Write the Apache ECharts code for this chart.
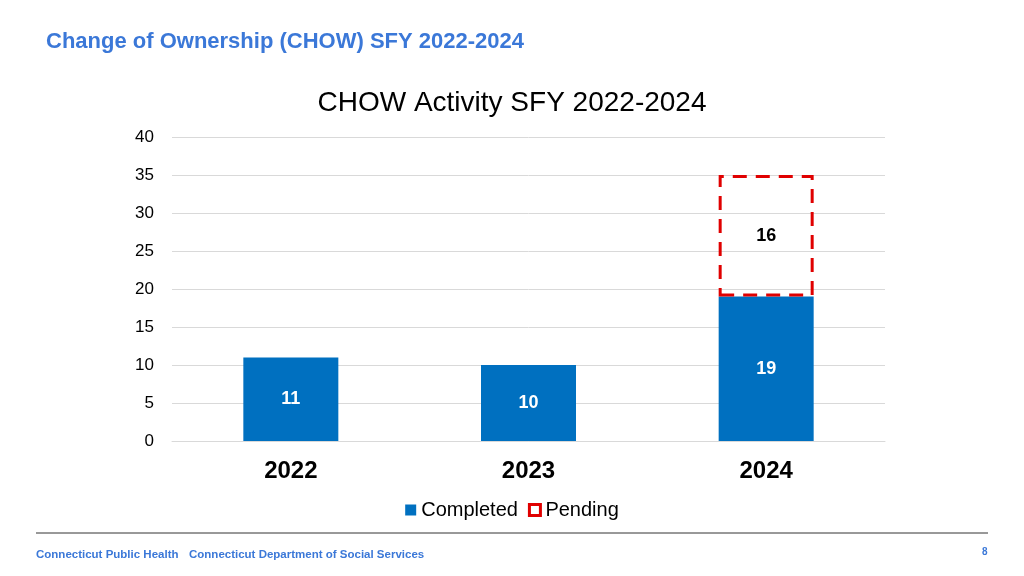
<!DOCTYPE html>
<html>
<head>
<meta charset="utf-8">
<script src="https://cdn.jsdelivr.net/npm/echarts@6/dist/echarts.min.js"></script>
<style>html,body{margin:0;padding:0;background:#fff}#root{width:1024px;height:576px}</style>
</head>
<body>
<div id="root"></div>
<script>
var years = ['2022', '2023', '2024'];
var completed = [11, 10, 19];
var pending = [null, null, 16];

var chart = echarts.init(document.getElementById('root'));
var blue = '#3b78d8';
var option = {
  animation: false,
  textStyle: { fontFamily: 'Liberation Sans, Arial, sans-serif' },
  title: {
    text: 'CHOW Activity SFY 2022-2024',
    left: 'center', top: 84,
    textStyle: { fontSize: 28, fontWeight: 'normal', color: '#000' }
  },
  grid: { left: 172, right: 139, top: 137, bottom: 135 },
  legend: {
    bottom: 51, left: 'center',
    itemWidth: 11, itemHeight: 11, itemGap: 10,
    textStyle: { fontSize: 20, color: '#000' },
    data: [
      { name: 'Completed', icon: 'rect' },
      { name: 'Pending', icon: 'rect', itemStyle: { color: '#fff', borderColor: '#e00000', borderWidth: 3, borderType: 'solid' } }
    ]
  },
  xAxis: {
    type: 'category', data: years,
    axisLine: { lineStyle: { color: '#d9d9d9' } },
    axisTick: { show: false },
    axisLabel: { fontSize: 24, fontWeight: 'bold', color: '#000', margin: 18 }
  },
  yAxis: {
    type: 'value', min: 0, max: 40, interval: 5,
    axisLine: { show: false }, axisTick: { show: false },
    splitLine: { lineStyle: { color: '#d9d9d9' } },
    axisLabel: { fontSize: 17, color: '#000', margin: 18 }
  },
  series: [
    {
      name: 'Completed', type: 'bar', stack: 'a', data: completed, barWidth: 95,
      itemStyle: { color: '#0070c0' },
      label: { show: true, position: 'inside', color: '#fff', fontSize: 18, fontWeight: 'bold' }
    },
    {
      name: 'Pending', type: 'bar', stack: 'a', data: pending, barWidth: 95,
      itemStyle: { color: 'rgba(0,0,0,0)', borderColor: '#e00000', borderWidth: 3, borderType: [14, 9] },
      label: { show: true, position: 'inside', color: '#000', fontSize: 18, fontWeight: 'bold' }
    }
  ],
  graphic: [
    { type: 'text', left: 46, top: 31, style: { text: 'Change of Ownership (CHOW) SFY 2022-2024', fill: blue, font: 'bold 22px Liberation Sans, Arial, sans-serif' } },
    { type: 'line', shape: { x1: 36, y1: 533, x2: 988, y2: 533 }, style: { stroke: '#333', lineWidth: 1 } },
    { type: 'text', left: 36, top: 549, style: { text: 'Connecticut Public Health', fill: blue, font: 'bold 11.5px Liberation Sans, Arial, sans-serif' } },
    { type: 'text', left: 189, top: 549, style: { text: 'Connecticut Department of Social Services', fill: blue, font: 'bold 11.5px Liberation Sans, Arial, sans-serif' } },
    { type: 'text', left: 982, top: 547, style: { text: '8', fill: blue, font: 'bold 10px Liberation Sans, Arial, sans-serif' } }
  ]
};
chart.setOption(option);
</script>
</body>
</html>
